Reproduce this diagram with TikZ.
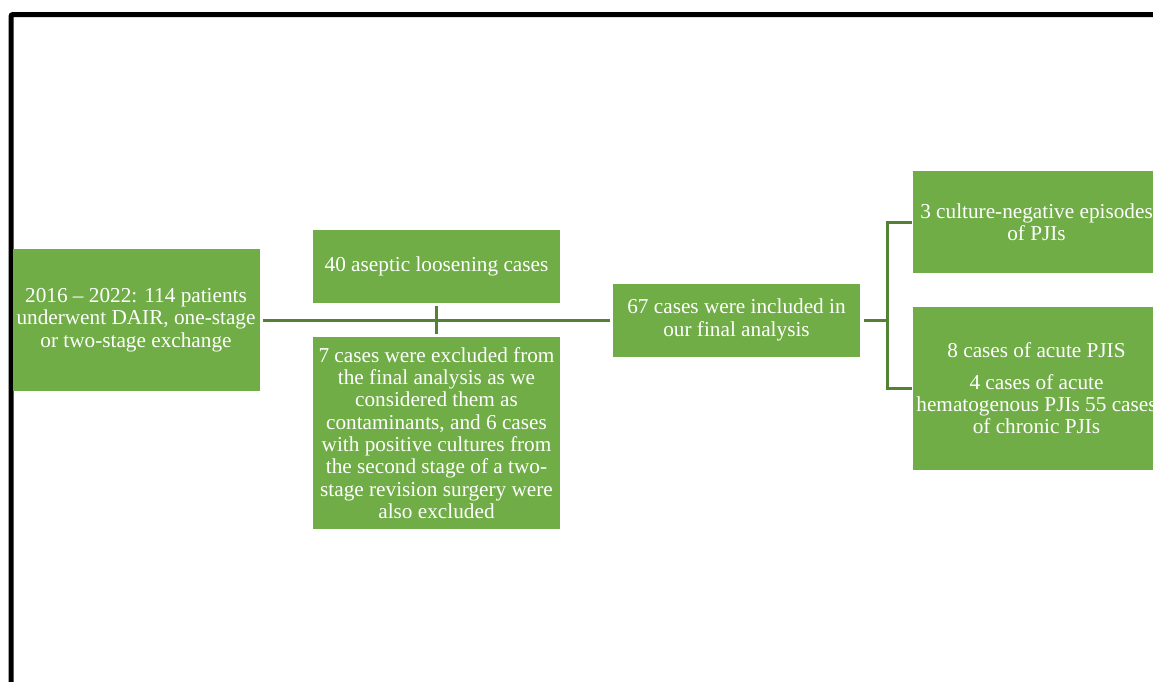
\documentclass[tikz,border=0pt]{standalone}
\usepackage{fontspec}
\setmainfont{Liberation Serif}
\definecolor{boxgreen}{RGB}{112,173,71}
\definecolor{linkgreen}{RGB}{84,130,53}

\begin{document}
\begin{tikzpicture}[x=1pt, y=-1pt,
		box/.style={fill=boxgreen, text=white, inner sep=0pt, minimum width=247pt, align=center,
			font=\fontsize{21.25}{22.3}\selectfont},
		link/.style={draw=linkgreen, line width=3pt}]
		\useasboundingbox (0,0) rectangle (1153,681);
		\clip (0,0) rectangle (1153,681);
		% frame
		\draw[line width=5pt, rounded corners=2pt] (11,700) -- (11,14.5) -- (1170,14.5);
		\node[box, minimum height=142pt] (0) at (136, 320) {2016 -- 2022: 114 patients\\underwent DAIR, one-stage\\or two-stage exchange};
		\node[box, minimum height=73pt] (1) at (436.5, 266.5) {40 aseptic loosening cases};
		\node[box, minimum height=192pt] (2) at (436.5, 433) {7 cases were excluded from\\the final analysis as we\\considered them as\\contaminants, and 6 cases\\with positive cultures from\\the second stage of a two-\\stage revision surgery were\\also excluded};
		\node[box, minimum height=73pt] (3) at (736.5, 320) {67 cases were included in\\our final analysis};
		\node[box, minimum height=102pt] (4) at (1036.5, 222) {3 culture-negative episodes\\of PJIs};
		\node[box, minimum height=163pt] (5) at (1036.5, 388.5) {8 cases of acute PJIS\\[9pt]4 cases of acute\\hematogenous PJIs 55 cases\\of chronic PJIs};
		\draw[link, shorten <=3pt, shorten >=3pt] (0.east) -- (3.west);
		\draw[link, shorten <=3pt, shorten >=3pt] (1) -- (2);
		\draw[link, shorten <=4pt, shorten >=1pt] (3.east) -- ++(27,0) |- (4.west);
		\draw[link, shorten <=4pt, shorten >=1pt] (3.east) -- ++(27,0) |- (5.west);
\end{tikzpicture}
\end{document}
